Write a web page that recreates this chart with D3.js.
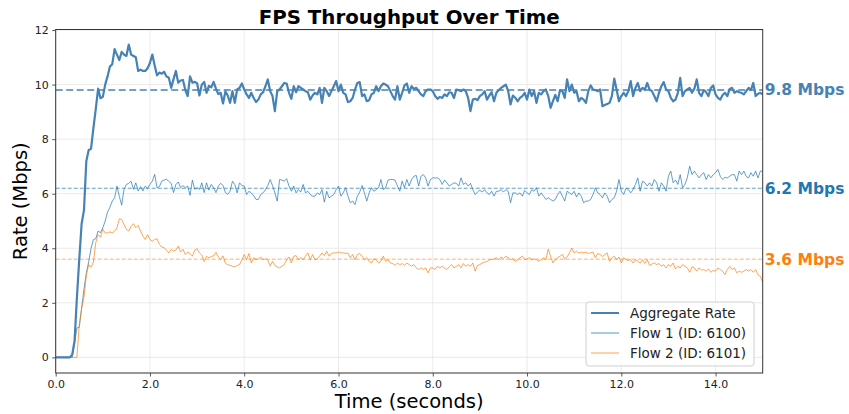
<!DOCTYPE html>
<html>
<head>
<meta charset="utf-8">
<script src="https://cdn.jsdelivr.net/npm/d3@7"></script>
<style>
  html, body { margin: 0; padding: 0; background: #fff; }
  svg { display: block; font-family: "DejaVu Sans", sans-serif; }
</style>
</head>
<body>
<svg id="chart" width="849" height="414"></svg>
<script>
// ---------------- DATA ----------------
const DT = 0.05; // seconds between samples
const xTicks = [0, 2, 4, 6, 8, 10, 12, 14];
const yTicks = [0, 2, 4, 6, 8, 10, 12];
const seriesNames = ["Aggregate Rate", "Flow 1 (ID: 6100)", "Flow 2 (ID: 6101)"];
const averages = [9.8, 6.2, 3.6];
const averageLabels = ["9.8 Mbps", "6.2 Mbps", "3.6 Mbps"];

const aggregate = [
  0,0,0,0,0,0,0,
  0.1,0.6,2.2,3.6,4.9,5.4,7.2,7.6,7.65,8.4,9.1,9.85,9.5,9.55,10.0,10.3,10.66,10.75,11.3,11.1,
  10.9,11.2,11.1,11.05,11.47,11.1,11.05,11.0,10.5,10.55,10.5,10.5,10.6,10.8,11.1,10.7,10.34,10.44,
  10.4,10.47,10.3,10.25,9.88,10.2,10.5,10.07,10.15,10.17,9.8,9.58,10.3,10.07,10.1,10.05,9.6,10.0,
  10.1,9.7,9.95,9.9,10.1,9.85,9.65,9.7,9.31,9.75,9.6,
  9.33,9.76,9.33,9.82,9.88,10.04,9.82,9.64,9.51,9.70,
  9.51,9.36,9.45,9.64,9.72,9.94,10.19,9.76,9.58,9.03,
  9.76,9.82,9.94,10.06,10.04,9.70,9.48,9.94,9.72,9.94,
  9.88,9.82,9.76,9.72,9.45,9.60,9.70,9.64,9.88,9.33,
  9.88,9.76,9.58,9.76,9.94,10.13,9.76,10.0,9.70,9.64,
  9.36,9.39,9.51,9.82,10.06,10.09,9.58,9.64,9.39,9.43,
  9.64,9.70,9.94,9.76,9.94,10.04,10.0,9.94,9.76,9.58,
  9.45,9.94,9.45,9.70,9.97,10.04,9.70,9.94,9.84,9.88,
  9.76,9.64,9.58,9.76,9.82,9.82,9.76,9.58,9.48,9.55,
  9.51,9.64,9.58,9.72,9.70,9.51,9.82,9.80,9.76,9.82,
  9.76,9.51,9.03,9.45,9.48,9.43,9.58,9.64,9.76,9.45,9.60,9.72,
  9.39,9.70,9.80,9.88,9.94,10.0,9.76,9.27,9.60,9.52,9.39,9.51,
  9.58,9.70,9.45,9.82,9.58,9.76,9.33,9.70,9.64,9.76,
  9.82,9.58,9.15,9.39,9.62,9.39,9.80,9.76,9.51,10.19,9.76,
  10.0,9.70,9.76,9.39,9.51,9.45,9.33,9.76,9.97,9.82,
  9.80,9.76,9.82,9.21,9.25,9.29,9.33,9.58,10.22,9.82,
  9.39,9.58,9.70,9.58,9.76,10.13,9.58,9.88,10.06,9.76,
  9.88,9.82,10.06,9.82,9.76,9.58,9.39,9.70,9.94,10.09,
  9.82,9.76,9.51,9.39,9.45,9.70,10.25,9.58,9.76,9.82,
  9.88,9.70,9.85,10.19,9.70,9.58,9.80,9.72,9.58,9.88,9.97,
  9.64,9.51,9.45,9.62,9.70,9.58,9.84,9.88,9.70,9.76,9.72,
  9.70,9.64,9.76,9.88,9.80,10.06,9.58,9.66,9.70,9.64
];

const flow1 = [
  0,0,0,0,0,0,0,0,
  0.5,1.08,1.1,1.8,2.5,3.1,3.5,4.0,4.32,4.35,4.63,4.57,4.75,5.0,5.33,5.5,5.73,5.85,
  6.28,5.9,5.58,6.16,6.34,6.38,6.46,6.16,6.4,6.1,6.26,6.1,6.28,6.2,6.34,6.46,6.71,6.22,
  6.26,6.46,6.5,6.53,6.46,6.38,6.04,6.34,6.43,6.22,6.3,6.22,6.28,5.94,6.5,6.16,6.22,6.16,
  6.4,6.04,6.4,6.13,6.34,6.22,6.04,6.28,6.38,6.3,6.04,5.98,
  6.09,6.46,6.34,6.03,6.40,6.30,6.28,5.97,6.09,6.03,
  5.93,5.79,5.79,5.97,6.03,6.15,6.30,6.52,6.30,6.03,
  5.73,6.52,6.50,6.46,6.55,6.28,6.09,6.28,6.03,6.15,
  6.06,6.34,6.03,6.09,5.97,5.91,5.91,6.03,5.97,6.15,
  5.69,6.09,5.85,5.91,5.97,6.15,6.28,5.91,6.03,6.22,
  5.91,5.67,5.73,5.60,5.91,6.06,6.30,6.03,5.73,6.03,
  6.22,6.09,6.15,6.22,6.52,6.15,6.22,6.50,6.52,6.52,
  6.50,6.28,6.09,6.46,6.22,6.52,6.28,6.52,6.64,6.67,
  6.28,6.64,6.70,6.58,6.28,6.52,6.58,6.58,6.58,6.52,
  6.34,6.50,6.40,6.28,6.34,6.40,6.38,6.28,6.58,6.34,
  6.40,6.28,6.38,6.15,5.97,6.06,6.13,6.06,6.15,6.03,
  5.97,6.09,
  5.91,6.09,6.09,6.15,6.06,6.15,6.09,5.67,6.03,6.03,
  5.97,6.03,5.91,6.12,6.03,5.97,6.15,6.09,6.22,5.91,6.03,
  5.91,5.79,5.85,5.79,5.73,5.79,5.97,6.09,5.91,5.73,
  6.09,6.03,5.97,6.09,5.88,6.03,5.91,5.67,5.73,5.73,5.79,
  5.97,6.22,6.03,5.97,5.85,6.03,5.91,5.67,5.79,5.85,
  6.09,6.52,6.09,5.97,6.20,6.15,6.03,6.15,6.34,6.58,6.09,
  6.46,6.40,6.28,6.40,6.28,6.52,6.40,6.09,6.40,6.28,
  6.09,6.64,6.83,6.40,6.50,6.34,6.70,6.22,6.34,6.58,7.01,
  6.70,6.83,6.70,6.58,6.70,6.77,6.52,6.70,6.58,6.70,
  6.77,6.89,6.64,6.52,6.60,6.58,6.64,6.70,6.70,6.46,6.83,
  6.70,6.83,6.64,6.58,6.77,6.64,6.83,6.58,6.83,6.83
];

const flow2 = [
  0,0,0,0,0,0,0,0,0,0,
  1.2,1.8,2.2,3.0,3.4,3.3,3.5,4.2,4.5,4.4,4.7,4.56,4.56,4.6,4.57,4.63,4.75,5.08,5.05,4.87,
  4.69,4.63,4.8,4.9,4.75,4.84,4.63,4.45,4.32,4.5,4.32,4.26,4.32,4.35,4.14,4.05,4.02,3.93,
  3.83,3.96,3.9,3.93,4.08,3.86,3.96,3.77,3.86,3.81,3.71,3.93,3.98,3.83,3.75,3.52,3.7,3.65,
  3.7,3.72,3.85,3.68,3.6,3.72,3.45,3.4,
  3.37,3.34,3.32,3.37,3.40,3.58,3.77,3.58,3.81,3.46,
  3.65,3.58,3.61,3.68,3.58,3.61,3.58,3.34,3.52,3.37,
  3.32,3.28,3.34,3.40,3.58,3.68,3.46,3.71,3.73,3.58,
  3.65,3.58,3.71,3.83,3.58,3.77,3.58,3.61,3.71,3.83,
  3.73,3.89,3.71,3.81,3.83,3.83,3.86,3.83,3.83,3.81,
  3.83,3.65,3.77,3.58,3.77,3.81,3.71,3.58,3.65,3.52,
  3.46,3.61,3.58,3.46,3.52,3.71,3.52,3.58,3.46,3.44,
  3.37,3.46,3.40,3.44,3.37,3.46,3.40,3.34,3.40,3.28,
  3.22,3.28,3.22,3.28,3.10,3.28,3.28,3.22,3.34,3.28,
  3.34,3.28,3.22,3.32,3.40,3.28,3.34,3.40,3.28,3.44,
  3.34,3.40,3.34,3.46,3.16,3.37,3.40,3.46,3.49,3.52,
  3.58,3.58,
  3.61,3.65,3.58,3.68,3.62,3.71,3.65,3.58,3.61,3.52,3.58,
  3.65,3.71,3.58,3.61,3.65,3.58,3.61,3.58,3.52,3.58,
  3.65,3.58,3.97,3.71,3.46,3.58,3.66,3.71,3.77,3.61,3.68,
  3.83,4.01,3.83,3.89,3.83,3.86,3.83,3.86,3.81,3.83,
  3.86,3.65,3.81,3.77,3.70,3.77,3.83,3.52,3.65,3.71,3.58,
  3.68,3.46,3.65,3.58,3.56,3.58,3.46,3.58,3.52,3.46,
  3.58,3.44,3.58,3.37,3.42,3.46,3.40,3.44,3.34,3.40,3.28,
  3.40,3.34,3.46,3.24,3.34,3.28,3.40,3.34,3.28,3.12,
  3.32,3.28,3.16,3.28,3.20,3.22,3.16,3.24,3.12,3.19,3.16,
  3.28,3.22,3.16,3.035,3.22,3.34,3.22,3.28,3.10,3.16,
  3.12,3.16,3.22,3.16,3.22,3.12,3.22,3.03,2.97,2.75
];

// ---------------- CHART ----------------
const W = 849, H = 414;
const margin = { left: 55.7, right: W - 762.7, top: 29.5, bottom: H - 373 };
const svg = d3.select("#chart");

const x = d3.scaleLinear().domain([0, 15]).range([margin.left, W - margin.right]);
const y = d3.scaleLinear().domain([-0.573, 12.02]).range([H - margin.bottom, margin.top]);

const textCol = "#222";
const g = svg.append("g");

// grid
g.append("g").selectAll("line").data(xTicks).join("line")
  .attr("x1", d => x(d)).attr("x2", d => x(d))
  .attr("y1", y.range()[1]).attr("y2", y.range()[0])
  .attr("stroke", "#e6e6e6").attr("stroke-width", 0.8);
g.append("g").selectAll("line").data(yTicks).join("line")
  .attr("y1", d => y(d)).attr("y2", d => y(d))
  .attr("x1", x.range()[0]).attr("x2", x.range()[1])
  .attr("stroke", "#e6e6e6").attr("stroke-width", 0.8);

// clip
svg.append("clipPath").attr("id", "clip").append("rect")
  .attr("x", x.range()[0]).attr("y", y.range()[1])
  .attr("width", x.range()[1] - x.range()[0]).attr("height", y.range()[0] - y.range()[1]);

const plot = svg.append("g").attr("clip-path", "url(#clip)");
const lineGen = d3.line().x((d, i) => x(i * DT)).y(d => y(d));

const colors = {
  agg: "#4682b4",
  f1: "#1f77b4",
  f2: "#ff7f0e"
};

// average dashed lines
plot.append("line").attr("x1", x.range()[0]).attr("x2", x.range()[1])
  .attr("y1", y(averages[0])).attr("y2", y(averages[0]))
  .attr("stroke", colors.agg).attr("stroke-width", 1.5).attr("stroke-dasharray", "7,3.5");
plot.append("line").attr("x1", x.range()[0]).attr("x2", x.range()[1])
  .attr("y1", y(averages[1])).attr("y2", y(averages[1]))
  .attr("stroke", colors.f1).attr("stroke-opacity", 0.7).attr("stroke-width", 1).attr("stroke-dasharray", "4,2");
plot.append("line").attr("x1", x.range()[0]).attr("x2", x.range()[1])
  .attr("y1", y(averages[2])).attr("y2", y(averages[2]))
  .attr("stroke", colors.f2).attr("stroke-opacity", 0.6).attr("stroke-width", 1).attr("stroke-dasharray", "4,2");

// series
plot.append("path").datum(flow1).attr("d", lineGen)
  .attr("fill", "none").attr("stroke", colors.f1).attr("stroke-opacity", 0.7).attr("stroke-width", 1);
plot.append("path").datum(flow2).attr("d", lineGen)
  .attr("fill", "none").attr("stroke", colors.f2).attr("stroke-opacity", 0.7).attr("stroke-width", 1);
plot.append("path").datum(aggregate).attr("d", lineGen)
  .attr("fill", "none").attr("stroke", colors.agg).attr("stroke-width", 2.2).attr("stroke-linejoin", "round");

// axes
const xAxis = d3.axisBottom(x).tickValues(xTicks).tickFormat(d3.format(".1f")).tickSize(3.5).tickPadding(3.5);
const yAxis = d3.axisLeft(y).tickValues(yTicks).tickFormat(d3.format("d")).tickSize(3.5).tickPadding(3.5);
const gx = svg.append("g").attr("transform", `translate(0,${y.range()[0]})`).call(xAxis);
const gy = svg.append("g").attr("transform", `translate(${x.range()[0]},0)`).call(yAxis);
[gx, gy].forEach(a => {
  a.select(".domain").remove();
  a.selectAll("line").attr("stroke", "#333").attr("stroke-width", 0.8);
  a.selectAll("text").attr("fill", textCol).style("font-size", "11px").style("font-family", "DejaVu Sans");
});

// frame
svg.append("rect")
  .attr("x", x.range()[0]).attr("y", y.range()[1])
  .attr("width", x.range()[1] - x.range()[0]).attr("height", y.range()[0] - y.range()[1])
  .attr("fill", "none").attr("stroke", "#333").attr("stroke-width", 1);

// average labels
const labelCols = [colors.agg, colors.f1, colors.f2];
svg.append("g").selectAll("text").data(averages).join("text")
  .attr("x", x.range()[1] + 2)
  .attr("y", d => y(d))
  .attr("dy", "0.35em")
  .attr("fill", (d, i) => labelCols[i])
  .style("font-size", "15.5px").style("font-weight", "bold")
  .text((d, i) => averageLabels[i]);

// title & axis labels
svg.append("text").attr("x", (x.range()[0] + x.range()[1]) / 2).attr("y", 24)
  .attr("text-anchor", "middle").style("font-size", "19.8px").style("font-weight", "bold")
  .attr("fill", "#000").text("FPS Throughput Over Time");
svg.append("text").attr("x", (x.range()[0] + x.range()[1]) / 2).attr("y", 408)
  .attr("text-anchor", "middle").style("font-size", "19.5px").attr("fill", "#000")
  .text("Time (seconds)");
svg.append("text").attr("transform", `translate(27,${(y.range()[0] + y.range()[1]) / 2}) rotate(-90)`)
  .attr("text-anchor", "middle").style("font-size", "19.5px").attr("fill", "#000")
  .text("Rate (Mbps)");

// legend
const lg = svg.append("g").attr("transform", "translate(586,302)");
lg.append("rect").attr("width", 168).attr("height", 64).attr("rx", 3)
  .attr("fill", "#fff").attr("fill-opacity", 0.85).attr("stroke", "#d0d0d0").attr("stroke-width", 1);
const legStyles = [
  { c: colors.agg, w: 2, o: 1 },
  { c: colors.f1, w: 1.5, o: 0.5 },
  { c: colors.f2, w: 1.2, o: 0.6 }
];
seriesNames.forEach((name, i) => {
  const yy = 11 + i * 20;
  lg.append("line").attr("x1", 5).attr("x2", 33).attr("y1", yy).attr("y2", yy)
    .attr("stroke", legStyles[i].c).attr("stroke-width", legStyles[i].w).attr("stroke-opacity", legStyles[i].o);
  lg.append("text").attr("x", 44).attr("y", yy).attr("dy", "0.35em")
    .style("font-size", "13.5px").attr("fill", textCol).text(name);
});
</script>
</body>
</html>
